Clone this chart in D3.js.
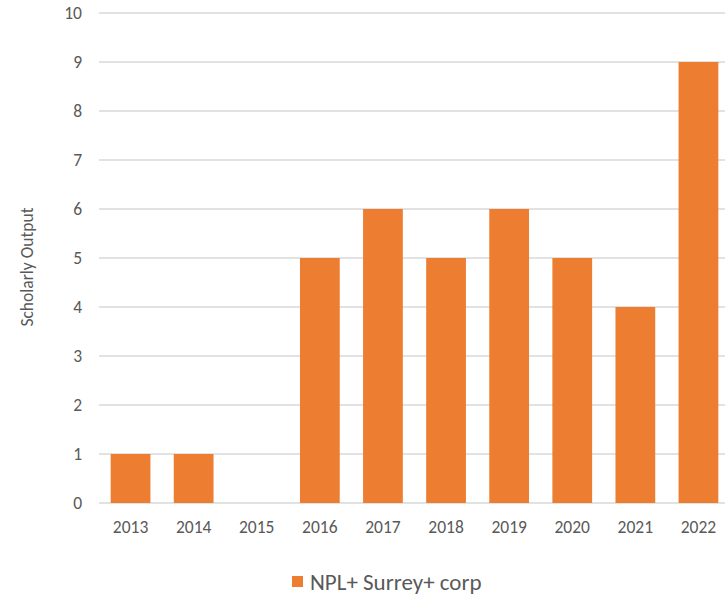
<!DOCTYPE html>
<html>
<head>
<meta charset="utf-8">
<script src="https://cdn.jsdelivr.net/npm/d3@7"></script>
<style>
  body { margin: 0; background: #fff; }
  text { font-family: Carlito, Lato, "Open Sans", sans-serif; fill: #595959; }
</style>
</head>
<body>
<div id="chart"></div>
<script>
// chart data
const years = ['2013', '2014', '2015', '2016', '2017', '2018', '2019', '2020', '2021', '2022'];
const outputValues = [1, 1, 0, 5, 6, 5, 6, 5, 4, 9];
const yTicks = [0, 1, 2, 3, 4, 5, 6, 7, 8, 9, 10];
const seriesName = 'NPL+ Surrey+ corp';

const width = 725, height = 595;
const svg = d3.select('#chart').append('svg')
    .attr('width', width)
    .attr('height', height);

const x = d3.scaleBand()
    .domain(years)
    .range([99, 730])
    .paddingInner(0.37)
    .paddingOuter(0.185);

const y = d3.scaleLinear()
    .domain([0, 10])
    .range([503, 13]);

// gridlines
svg.append('g')
    .selectAll('line')
    .data(yTicks)
    .join('line')
    .attr('x1', 99)
    .attr('x2', width)
    .attr('y1', d => y(d))
    .attr('y2', d => y(d))
    .attr('stroke', '#d9d9d9')
    .attr('stroke-width', 1.3);

// y tick labels
svg.append('g')
    .selectAll('text')
    .data(yTicks)
    .join('text')
    .attr('x', 82)
    .attr('y', d => y(d))
    .attr('text-anchor', 'end')
    .attr('dominant-baseline', 'central')
    .style('font-size', '17.5px')
    .text(d => d);

// bars
svg.append('g')
    .selectAll('rect')
    .data(years)
    .join('rect')
    .attr('x', d => x(d))
    .attr('width', x.bandwidth())
    .attr('y', (d, i) => y(outputValues[i]))
    .attr('height', (d, i) => y(0) - y(outputValues[i]))
    .attr('fill', '#ED7D31');

// x labels
svg.append('g')
    .selectAll('text')
    .data(years)
    .join('text')
    .attr('x', d => x(d) + x.bandwidth() / 2)
    .attr('y', 527)
    .attr('text-anchor', 'middle')
    .attr('dominant-baseline', 'central')
    .style('font-size', '17.5px')
    .text(d => d);

// y axis title
svg.append('text')
    .attr('transform', 'translate(27,267) rotate(-90)')
    .attr('text-anchor', 'middle')
    .attr('dominant-baseline', 'central')
    .style('font-size', '17.5px')
    .text('Scholarly Output');

// legend
svg.append('rect')
    .attr('x', 292)
    .attr('y', 576)
    .attr('width', 11)
    .attr('height', 11)
    .attr('fill', '#ED7D31');

svg.append('text')
    .attr('x', 310)
    .attr('y', 582)
    .attr('dominant-baseline', 'central')
    .style('font-size', '23px')
    .text(seriesName);
</script>
</body>
</html>
